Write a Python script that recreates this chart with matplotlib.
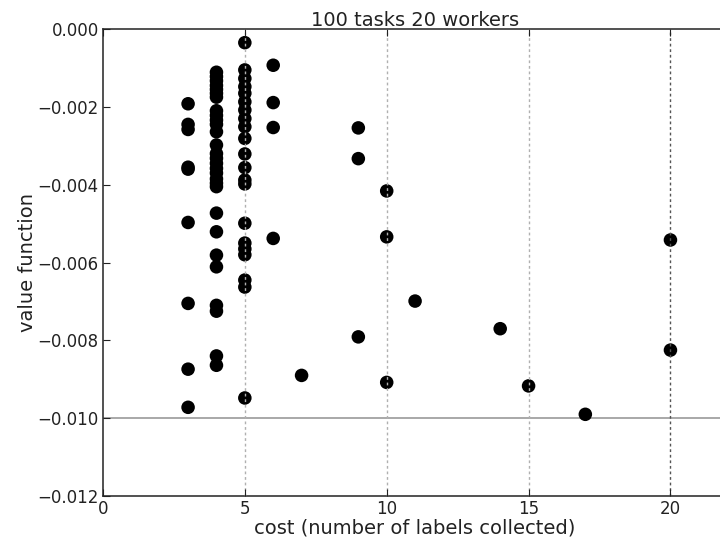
import matplotlib
matplotlib.use("Agg")
import matplotlib.pyplot as plt

# value function per cost (number of labels collected)
cost3 = [-0.00192, -0.00245, -0.00258, -0.00355, -0.00360, -0.00497, -0.00705, -0.00874, -0.00972]
cost4 = [-0.00111, -0.00122, -0.00133, -0.00145, -0.00155, -0.00165, -0.00175,
         -0.00210, -0.00222, -0.00234, -0.00245, -0.00264, -0.00298, -0.00320,
         -0.00332, -0.00345, -0.00358, -0.00370, -0.00385, -0.00396, -0.00405,
         -0.00473, -0.00521, -0.00581, -0.00611, -0.00710, -0.00725, -0.00840, -0.00864]
cost5 = [-0.00035, -0.00105, -0.00127, -0.00148, -0.00165, -0.00187, -0.00208,
         -0.00230, -0.00251, -0.00281, -0.00321, -0.00356, -0.00388, -0.00398,
         -0.00499, -0.00550, -0.00565, -0.00580, -0.00645, -0.00663, -0.00948]
cost6 = [-0.00093, -0.00189, -0.00253, -0.00538]
cost7 = [-0.00890]
cost9 = [-0.00254, -0.00333, -0.00791]
cost10 = [-0.00416, -0.00534, -0.00908]
cost11 = [-0.00699]
cost14 = [-0.00770]
cost15 = [-0.00917]
cost17 = [-0.00990]
cost20 = [-0.00542, -0.00825]

groups = {3: cost3, 4: cost4, 5: cost5, 6: cost6, 7: cost7, 9: cost9, 10: cost10,
          11: cost11, 14: cost14, 15: cost15, 17: cost17, 20: cost20}

xs = []
ys = []
for c, vals in groups.items():
    xs += [c] * len(vals)
    ys += vals

fig = plt.figure(figsize=(7.2, 5.38), dpi=100)
ax = fig.add_axes([0.143, 0.078, 0.867, 0.868])

ax.scatter(xs, ys, s=95, color="black", edgecolors="none", zorder=2)

ax.set_xlim(0, 22)
ax.set_ylim(-0.012, 0.0)
ax.set_xticks([0, 5, 10, 15, 20])
ax.set_yticks([-0.012, -0.010, -0.008, -0.006, -0.004, -0.002, 0.000])
ax.set_yticklabels(["\u22120.012", "\u22120.010", "\u22120.008", "\u22120.006",
                    "\u22120.004", "\u22120.002", "0.000"])

ax.set_axisbelow(False)
ax.grid(axis="x", linestyle=(0, (2, 2)), color="#b0b0b0", linewidth=1, zorder=3)
gl = ax.xaxis.get_gridlines()
gl[0].set_visible(False)
gl[4].set_color("#555555")
ax.axhline(-0.010, color="#999999", linewidth=1.2, zorder=1)

ax.tick_params(direction="in", top=True, right=True, length=5, labelsize=12,
               colors="#222222", pad=3)
for s in ax.spines.values():
    s.set_color("#333333")
    s.set_linewidth(1.2)

ax.set_title("100 tasks 20 workers", fontsize=14, color="#222222", pad=2)
ax.set_xlabel("cost (number of labels collected)", fontsize=14, color="#222222", labelpad=0)
ax.set_ylabel("value function", fontsize=14, color="#222222", labelpad=0)

fig.savefig("out.png", dpi=100)
